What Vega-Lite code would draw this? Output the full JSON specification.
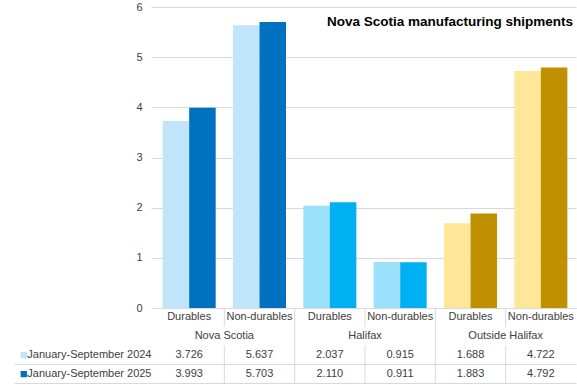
{
  "$schema": "https://vega.github.io/schema/vega-lite/v6.json",
  "background": "white",
  "padding": {"left": 13, "top": 1, "right": 2, "bottom": 2},
  "spacing": 0,
  "bounds": "flush",
  "config": {
    "view": {"stroke": null},
    "font": "Liberation Sans",
    "axis": {"labelFont": "Liberation Sans", "labelFontSize": 11, "labelColor": "#404040"},
    "text": {"font": "Liberation Sans", "fontSize": 11, "color": "#404040"}
  },
  "datasets": {
    "shipments": [
      {"region": "Nova Scotia", "category": "Durables", "series": "January-September 2024", "value": 3.726},
      {"region": "Nova Scotia", "category": "Durables", "series": "January-September 2025", "value": 3.993},
      {"region": "Nova Scotia", "category": "Non-durables", "series": "January-September 2024", "value": 5.637},
      {"region": "Nova Scotia", "category": "Non-durables", "series": "January-September 2025", "value": 5.703},
      {"region": "Halifax", "category": "Durables", "series": "January-September 2024", "value": 2.037},
      {"region": "Halifax", "category": "Durables", "series": "January-September 2025", "value": 2.110},
      {"region": "Halifax", "category": "Non-durables", "series": "January-September 2024", "value": 0.915},
      {"region": "Halifax", "category": "Non-durables", "series": "January-September 2025", "value": 0.911},
      {"region": "Outside Halifax", "category": "Durables", "series": "January-September 2024", "value": 1.688},
      {"region": "Outside Halifax", "category": "Durables", "series": "January-September 2025", "value": 1.883},
      {"region": "Outside Halifax", "category": "Non-durables", "series": "January-September 2024", "value": 4.722},
      {"region": "Outside Halifax", "category": "Non-durables", "series": "January-September 2025", "value": 4.792}
    ]
  },
  "resolve": {"scale": {"x": "independent", "y": "independent"}},
  "vconcat": [
    {
      "width": 422,
      "height": 301,
      "title": {
        "text": "Nova Scotia manufacturing shipments",
        "anchor": "end",
        "font": "Liberation Sans",
        "fontSize": 13.5,
        "fontWeight": "bold",
        "color": "#000000",
        "baseline": "alphabetic",
        "offset": -38,
        "dx": -3
      },
      "data": {"name": "shipments"},
      "transform": [
        {"calculate": "datum.region + '|' + datum.category", "as": "key"},
        {"calculate": "datum.region + ' ' + datum.series", "as": "colorKey"}
      ],
      "mark": {"type": "bar"},
      "encoding": {
        "x": {
          "field": "key", "type": "nominal",
          "scale": {
            "domain": ["Nova Scotia|Durables", "Nova Scotia|Non-durables", "Halifax|Durables", "Halifax|Non-durables", "Outside Halifax|Durables", "Outside Halifax|Non-durables"],
            "paddingInner": 0.246, "paddingOuter": 0.123
          },
          "axis": {"labels": false, "ticks": false, "domain": true, "domainColor": "#d9d9d9", "title": null, "grid": false}
        },
        "xOffset": {
          "field": "series", "type": "nominal",
          "scale": {"domain": ["January-September 2024", "January-September 2025"], "paddingInner": 0, "paddingOuter": 0}
        },
        "y": {
          "field": "value", "type": "quantitative",
          "scale": {"domain": [0, 6]},
          "axis": {"values": [0, 1, 2, 3, 4, 5, 6], "title": null, "grid": true, "gridColor": "#d9d9d9", "domain": false, "tickColor": "#d9d9d9", "tickSize": 3, "labelPadding": 9}
        },
        "color": {
          "field": "colorKey", "type": "nominal",
          "scale": {
            "domain": ["Nova Scotia January-September 2024", "Nova Scotia January-September 2025", "Halifax January-September 2024", "Halifax January-September 2025", "Outside Halifax January-September 2024", "Outside Halifax January-September 2025"],
            "range": ["#C0E4FA", "#0070C0", "#9BE1FB", "#00B0F0", "#FFE699", "#BF9000"]
          },
          "legend": null
        }
      }
    },
    {
      "width": 422,
      "height": 75,
      "data": {"name": "shipments"},
      "transform": [
        {"calculate": "datum.region + '|' + datum.category", "as": "key"}
      ],
      "resolve": {"axis": {"y": "independent"}},
      "layer": [
        {
          "transform": [{"filter": "datum.series == 'January-September 2024' && datum.category == 'Durables' && datum.region != 'Nova Scotia'"}],
          "mark": {"type": "rule", "color": "#d9d9d9", "strokeWidth": 1},
          "encoding": {
            "x": {"field": "key", "type": "nominal", "bandPosition": 0,
              "scale": {"domain": ["Nova Scotia|Durables", "Nova Scotia|Non-durables", "Halifax|Durables", "Halifax|Non-durables", "Outside Halifax|Durables", "Outside Halifax|Non-durables"], "paddingInner": 0, "paddingOuter": 0},
              "axis": null}
          }
        },
        {
          "transform": [{"filter": "datum.series == 'January-September 2024' && datum.category == 'Non-durables'"}],
          "mark": {"type": "rule", "color": "#d9d9d9", "strokeWidth": 1},
          "encoding": {
            "x": {"field": "key", "type": "nominal", "bandPosition": 0, "axis": null},
            "y": {"datum": "cat", "type": "nominal", "bandPosition": 0,
              "scale": {"domain": ["cat", "reg", "January-September 2024", "January-September 2025"], "paddingInner": 0, "paddingOuter": 0},
              "axis": null},
            "y2": {"datum": "cat", "bandPosition": 1}
          }
        },
        {
          "transform": [{"filter": "datum.series == 'January-September 2024' && datum.category == 'Non-durables'"}],
          "mark": {"type": "rule", "color": "#d9d9d9", "strokeWidth": 1},
          "encoding": {
            "x": {"field": "key", "type": "nominal", "bandPosition": 0, "axis": null},
            "y": {"datum": "January-September 2024", "type": "nominal", "bandPosition": 0, "axis": null},
            "y2": {"datum": "January-September 2025", "bandPosition": 1}
          }
        },
        {
          "transform": [{"filter": "datum.series == 'January-September 2024'"}],
          "mark": {"type": "text"},
          "encoding": {
            "x": {"field": "key", "type": "nominal", "axis": null},
            "y": {"datum": "cat", "type": "nominal",
              "axis": {"orient": "left", "title": null, "domain": false, "ticks": false, "values": ["January-September 2024", "January-September 2025"],
                "labelExpr": "'■'", "labelPadding": 127, "labelFontSize": 13,
                "labelColor": {"condition": {"test": "datum.value == 'January-September 2024'", "value": "#C0E4FA"}, "value": "#0070C0"}}},
            "text": {"field": "category", "type": "nominal"}
          }
        },
        {
          "transform": [{"filter": "datum.series == 'January-September 2024' && datum.category == 'Durables'"}],
          "mark": {"type": "text"},
          "encoding": {
            "x": {"field": "key", "type": "nominal", "bandPosition": 1, "axis": null},
            "y": {"datum": "reg", "type": "nominal",
              "axis": {"orient": "left", "title": null, "domain": false, "labels": false, "ticks": true, "tickSize": 140, "tickColor": "#d9d9d9",
                "bandPosition": 1, "grid": true, "gridColor": "#d9d9d9", "values": ["January-September 2024", "January-September 2025"]}},
            "text": {"field": "region", "type": "nominal"}
          }
        },
        {
          "mark": {"type": "text"},
          "encoding": {
            "x": {"field": "key", "type": "nominal", "axis": null},
            "y": {"field": "series", "type": "nominal",
              "axis": {"orient": "left", "title": null, "domain": false, "ticks": false, "values": ["January-September 2024", "January-September 2025"], "labelPadding": 3}},
            "text": {"field": "value", "type": "quantitative", "format": ".3f"}
          }
        }
      ]
    }
  ]
}
